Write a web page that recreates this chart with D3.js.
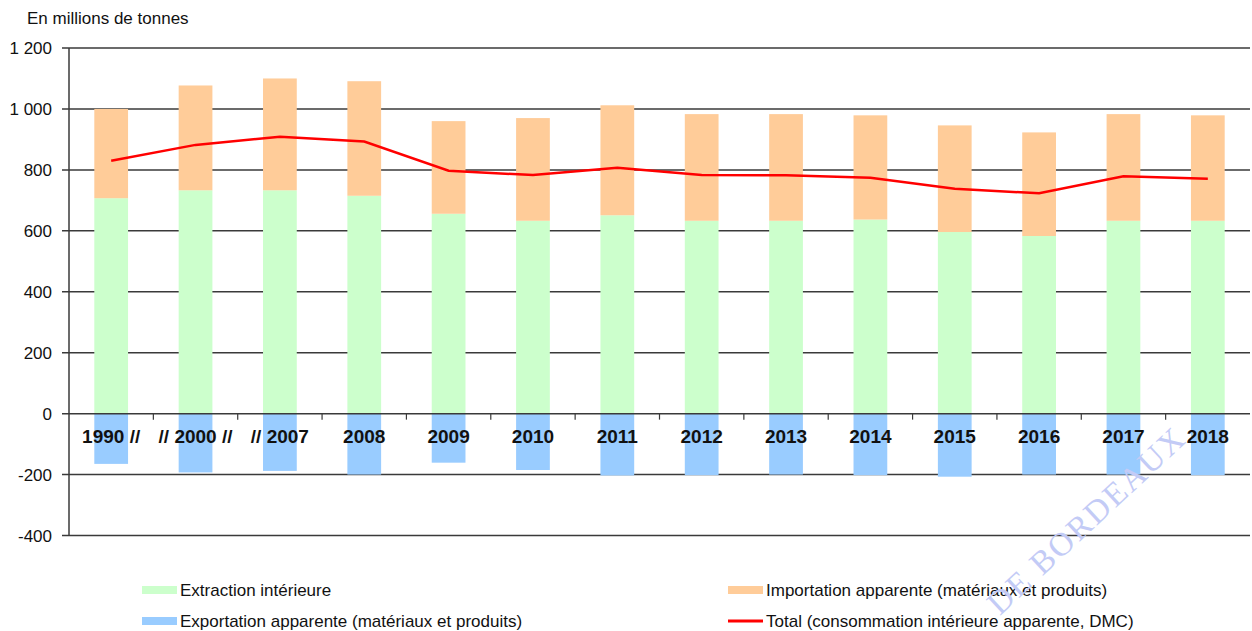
<!DOCTYPE html>
<html>
<head>
<meta charset="utf-8">
<script src="https://cdn.jsdelivr.net/npm/d3@7"></script>
<style>
  body { margin: 0; background: #fff; }
  svg { display: block; }
</style>
</head>
<body>
<svg id="chart" width="1252" height="631"></svg>
<script>
// categories (the "//" marks the breaks in the series)
const years = ["1990 //", "// 2000 //", "// 2007", "2008", "2009", "2010", "2011",
               "2012", "2013", "2014", "2015", "2016", "2017", "2018"];
// en millions de tonnes
const extraction = [707, 733, 733, 715, 656, 633, 651, 633, 633, 637, 596, 583, 633, 633];
const importation = [293, 344, 367, 376, 304, 337, 361, 350, 350, 342, 350, 340, 350, 346];
const exportation = [-165, -193, -188, -200, -161, -185, -203, -202, -200, -202, -207, -200, -200, -202];
const total = [830, 882, 909, 893, 797, 783, 807, 783, 782, 774, 738, 723, 779, 771];
const yTicks = [-400, -200, 0, 200, 400, 600, 800, 1000, 1200];

const legendItems = [
  { label: "Extraction intérieure", color: "#ccffcc", type: "rect" },
  { label: "Importation apparente (matériaux et produits)", color: "#ffcc99", type: "rect" },
  { label: "Exportation apparente (matériaux et produits)", color: "#99ccff", type: "rect" },
  { label: "Total (consommation intérieure apparente, DMC)", color: "#ff0000", type: "line" }
];

const svg = d3.select("#chart");
const plotLeft = 69, plotRight = 1250, plotTop = 48, plotBottom = 535.5;

const x = d3.scaleBand().domain(years).range([plotLeft, plotRight]).paddingInner(0.6).paddingOuter(0.3);
const y = d3.scaleLinear().domain([-400, 1200]).range([plotBottom, plotTop]);

// french style: space as thousands separator, plain hyphen for minus
const fmt = v => (v < 0 ? "-" : "") + d3.format(",")(Math.abs(v)).replace(",", " ");

// gridlines (behind the bars)
svg.append("g").selectAll("line")
  .data(yTicks.filter(d => d !== 0))
  .join("line")
  .attr("x1", plotLeft - 7).attr("x2", plotRight)
  .attr("y1", d => y(d)).attr("y2", d => y(d))
  .attr("stroke", "#3a3a3a").attr("stroke-width", 1.5);

// y labels
svg.append("g").selectAll("text")
  .data(yTicks)
  .join("text")
  .attr("x", 52).attr("y", d => y(d))
  .attr("dy", "0.36em")
  .attr("text-anchor", "end")
  .attr("font-family", "Liberation Sans, Arial, sans-serif")
  .attr("font-size", 17)
  .attr("fill", "#111")
  .text(d => fmt(d));

svg.append("text")
  .attr("x", 27).attr("y", 24)
  .attr("font-family", "Liberation Sans, Arial, sans-serif")
  .attr("font-size", 17)
  .attr("fill", "#111")
  .text("En millions de tonnes");

// bars
const bars = svg.append("g");
bars.selectAll(".ext").data(years).join("rect")
  .attr("x", d => x(d)).attr("width", x.bandwidth())
  .attr("y", (d, i) => y(extraction[i]))
  .attr("height", (d, i) => y(0) - y(extraction[i]))
  .attr("fill", "#ccffcc");
bars.selectAll(".imp").data(years).join("rect")
  .attr("x", d => x(d)).attr("width", x.bandwidth())
  .attr("y", (d, i) => y(extraction[i] + importation[i]))
  .attr("height", (d, i) => y(extraction[i]) - y(extraction[i] + importation[i]))
  .attr("fill", "#ffcc99");
bars.selectAll(".exp").data(years).join("rect")
  .attr("x", d => x(d)).attr("width", x.bandwidth())
  .attr("y", y(0))
  .attr("height", (d, i) => y(exportation[i]) - y(0))
  .attr("fill", "#99ccff");

// axes on top
svg.append("line")
  .attr("x1", plotLeft).attr("x2", plotLeft).attr("y1", plotTop).attr("y2", plotBottom)
  .attr("stroke", "#3a3a3a").attr("stroke-width", 1.5);
svg.append("line")
  .attr("x1", plotLeft - 7).attr("x2", plotRight).attr("y1", y(0)).attr("y2", y(0))
  .attr("stroke", "#3a3a3a").attr("stroke-width", 1.5);
const step = x.step();
svg.append("g").selectAll("line")
  .data(years.slice(1))
  .join("line")
  .attr("x1", d => x(d) - step * 0.3).attr("x2", d => x(d) - step * 0.3)
  .attr("y1", y(0)).attr("y2", y(0) + 6)
  .attr("stroke", "#3a3a3a").attr("stroke-width", 1.2);

// x labels
svg.append("g").selectAll("text")
  .data(years)
  .join("text")
  .attr("x", d => x(d) + x.bandwidth() / 2)
  .attr("y", y(0) + 29)
  .attr("text-anchor", "middle")
  .attr("font-family", "Liberation Sans Narrow, Arial Narrow, sans-serif")
  .attr("font-weight", "bold")
  .attr("font-size", 19)
  .attr("fill", "#111")
  .text(d => d);

// total line
const line = d3.line()
  .x((d, i) => x(years[i]) + x.bandwidth() / 2)
  .y(d => y(d));
svg.append("path")
  .datum(total)
  .attr("d", line)
  .attr("fill", "none")
  .attr("stroke", "#ff0000")
  .attr("stroke-width", 2.5);

// legend
const legPos = [[142, 590], [728, 590], [142, 621], [728, 621]];
const leg = svg.append("g").selectAll("g")
  .data(legendItems)
  .join("g")
  .attr("transform", (d, i) => `translate(${legPos[i][0]},${legPos[i][1]})`);
leg.append("rect")
  .attr("x", 0).attr("width", 35)
  .attr("y", d => d.type === "line" ? -1.5 : -4)
  .attr("height", d => d.type === "line" ? 3 : 8)
  .attr("fill", d => d.color);
leg.append("text")
  .attr("x", 38).attr("dy", "0.36em")
  .attr("font-family", "Liberation Sans, Arial, sans-serif")
  .attr("font-size", 17)
  .attr("fill", "#111")
  .text(d => d.label);

// scan watermark
svg.append("text")
  .attr("transform", "translate(1086,520) rotate(-43)")
  .attr("text-anchor", "middle")
  .attr("dy", "0.35em")
  .attr("font-family", "Liberation Serif, serif")
  .attr("font-size", 33)
  .attr("letter-spacing", 2)
  .attr("fill", "#c3cbf6")
  .text("DE BORDEAUX");
</script>
</body>
</html>
